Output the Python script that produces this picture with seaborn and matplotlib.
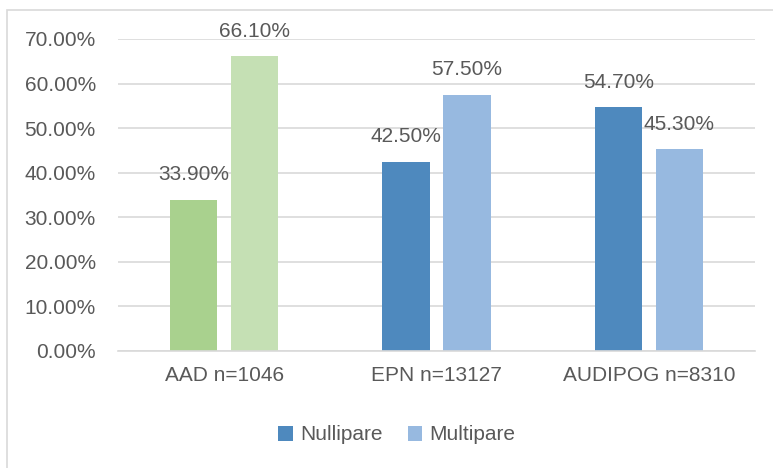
import matplotlib
matplotlib.use("Agg")
import matplotlib.pyplot as plt
import seaborn as sns
import pandas as pd
from matplotlib.patches import Rectangle, Patch
from matplotlib.ticker import FuncFormatter

categories = ["AAD n=1046", "EPN n=13127", "AUDIPOG n=8310"]
series_names = ["Nullipare", "Multipare"]
nullipare = [33.9, 42.5, 54.7]
multipare = [66.1, 57.5, 45.3]
yticks = [0, 10, 20, 30, 40, 50, 60, 70]

df = pd.DataFrame({
    "cat": categories * 2,
    "serie": [series_names[0]] * 3 + [series_names[1]] * 3,
    "val": nullipare + multipare,
})

sns.set_style("white")
plt.rcParams["font.family"] = ["Liberation Sans", "DejaVu Sans"]
txt = "#595959"
grid = "#D9D9D9"
blue_dark = "#4E89BE"
blue_light = "#97B9E0"
green_dark = "#A9D18E"
green_light = "#C5E0B4"
fs = 15

fig = plt.figure(figsize=(7.73, 4.68), dpi=100)
ax = fig.add_axes([118 / 773, 1 - 351 / 468, 637 / 773, 312 / 468])

sns.barplot(data=df, x="cat", y="val", hue="serie", order=categories,
            hue_order=series_names, palette=[blue_dark, blue_light],
            width=0.575, gap=0.228, ax=ax, legend=False, saturation=1)

# recolor first group in greens
for cont, col in zip(ax.containers, [green_dark, green_light]):
    cont.patches[0].set_facecolor(col)
    for p in cont.patches:
        p.set_edgecolor("none")

for cont, vals in zip(ax.containers, [nullipare, multipare]):
    for p, v in zip(cont.patches, vals):
        ax.annotate(f"{v:.2f}%", (p.get_x() + p.get_width() / 2, p.get_height()),
                    xytext=(0, 18), textcoords="offset points",
                    ha="center", va="center", fontsize=fs, color=txt)

ax.set_ylim(0, 70)
ax.set_xlim(-0.5, 2.5)
ax.set_yticks(yticks)
ax.yaxis.set_major_formatter(FuncFormatter(lambda v, p: f"{v:.2f}%"))
ax.grid(axis="y", color=grid, linewidth=1.2)
ax.set_axisbelow(True)
for s in ["top", "right", "left"]:
    ax.spines[s].set_visible(False)
ax.spines["bottom"].set_color(grid)
ax.spines["bottom"].set_linewidth(1.2)
ax.tick_params(axis="y", length=0, pad=16, labelsize=fs, labelcolor=txt)
ax.tick_params(axis="x", length=0, pad=11, labelsize=fs, labelcolor=txt)
ax.set_xlabel("")
ax.set_ylabel("")

handles = [Patch(facecolor=blue_dark, edgecolor="none"),
           Patch(facecolor=blue_light, edgecolor="none")]
fig.legend(handles, series_names, loc="center", bbox_to_anchor=(397 / 773, 1 - 435 / 468),
           ncol=2, frameon=False, fontsize=fs, labelcolor=txt,
           handlelength=0.7, handleheight=0.7, handletextpad=0.35, columnspacing=1.2)

fig.patches.append(Rectangle((7 / 773, -0.1), 1.2, (468 - 10) / 468 + 0.1,
                             transform=fig.transFigure, fill=False,
                             edgecolor=grid, linewidth=1.2))

fig.savefig("out.png", dpi=100)
